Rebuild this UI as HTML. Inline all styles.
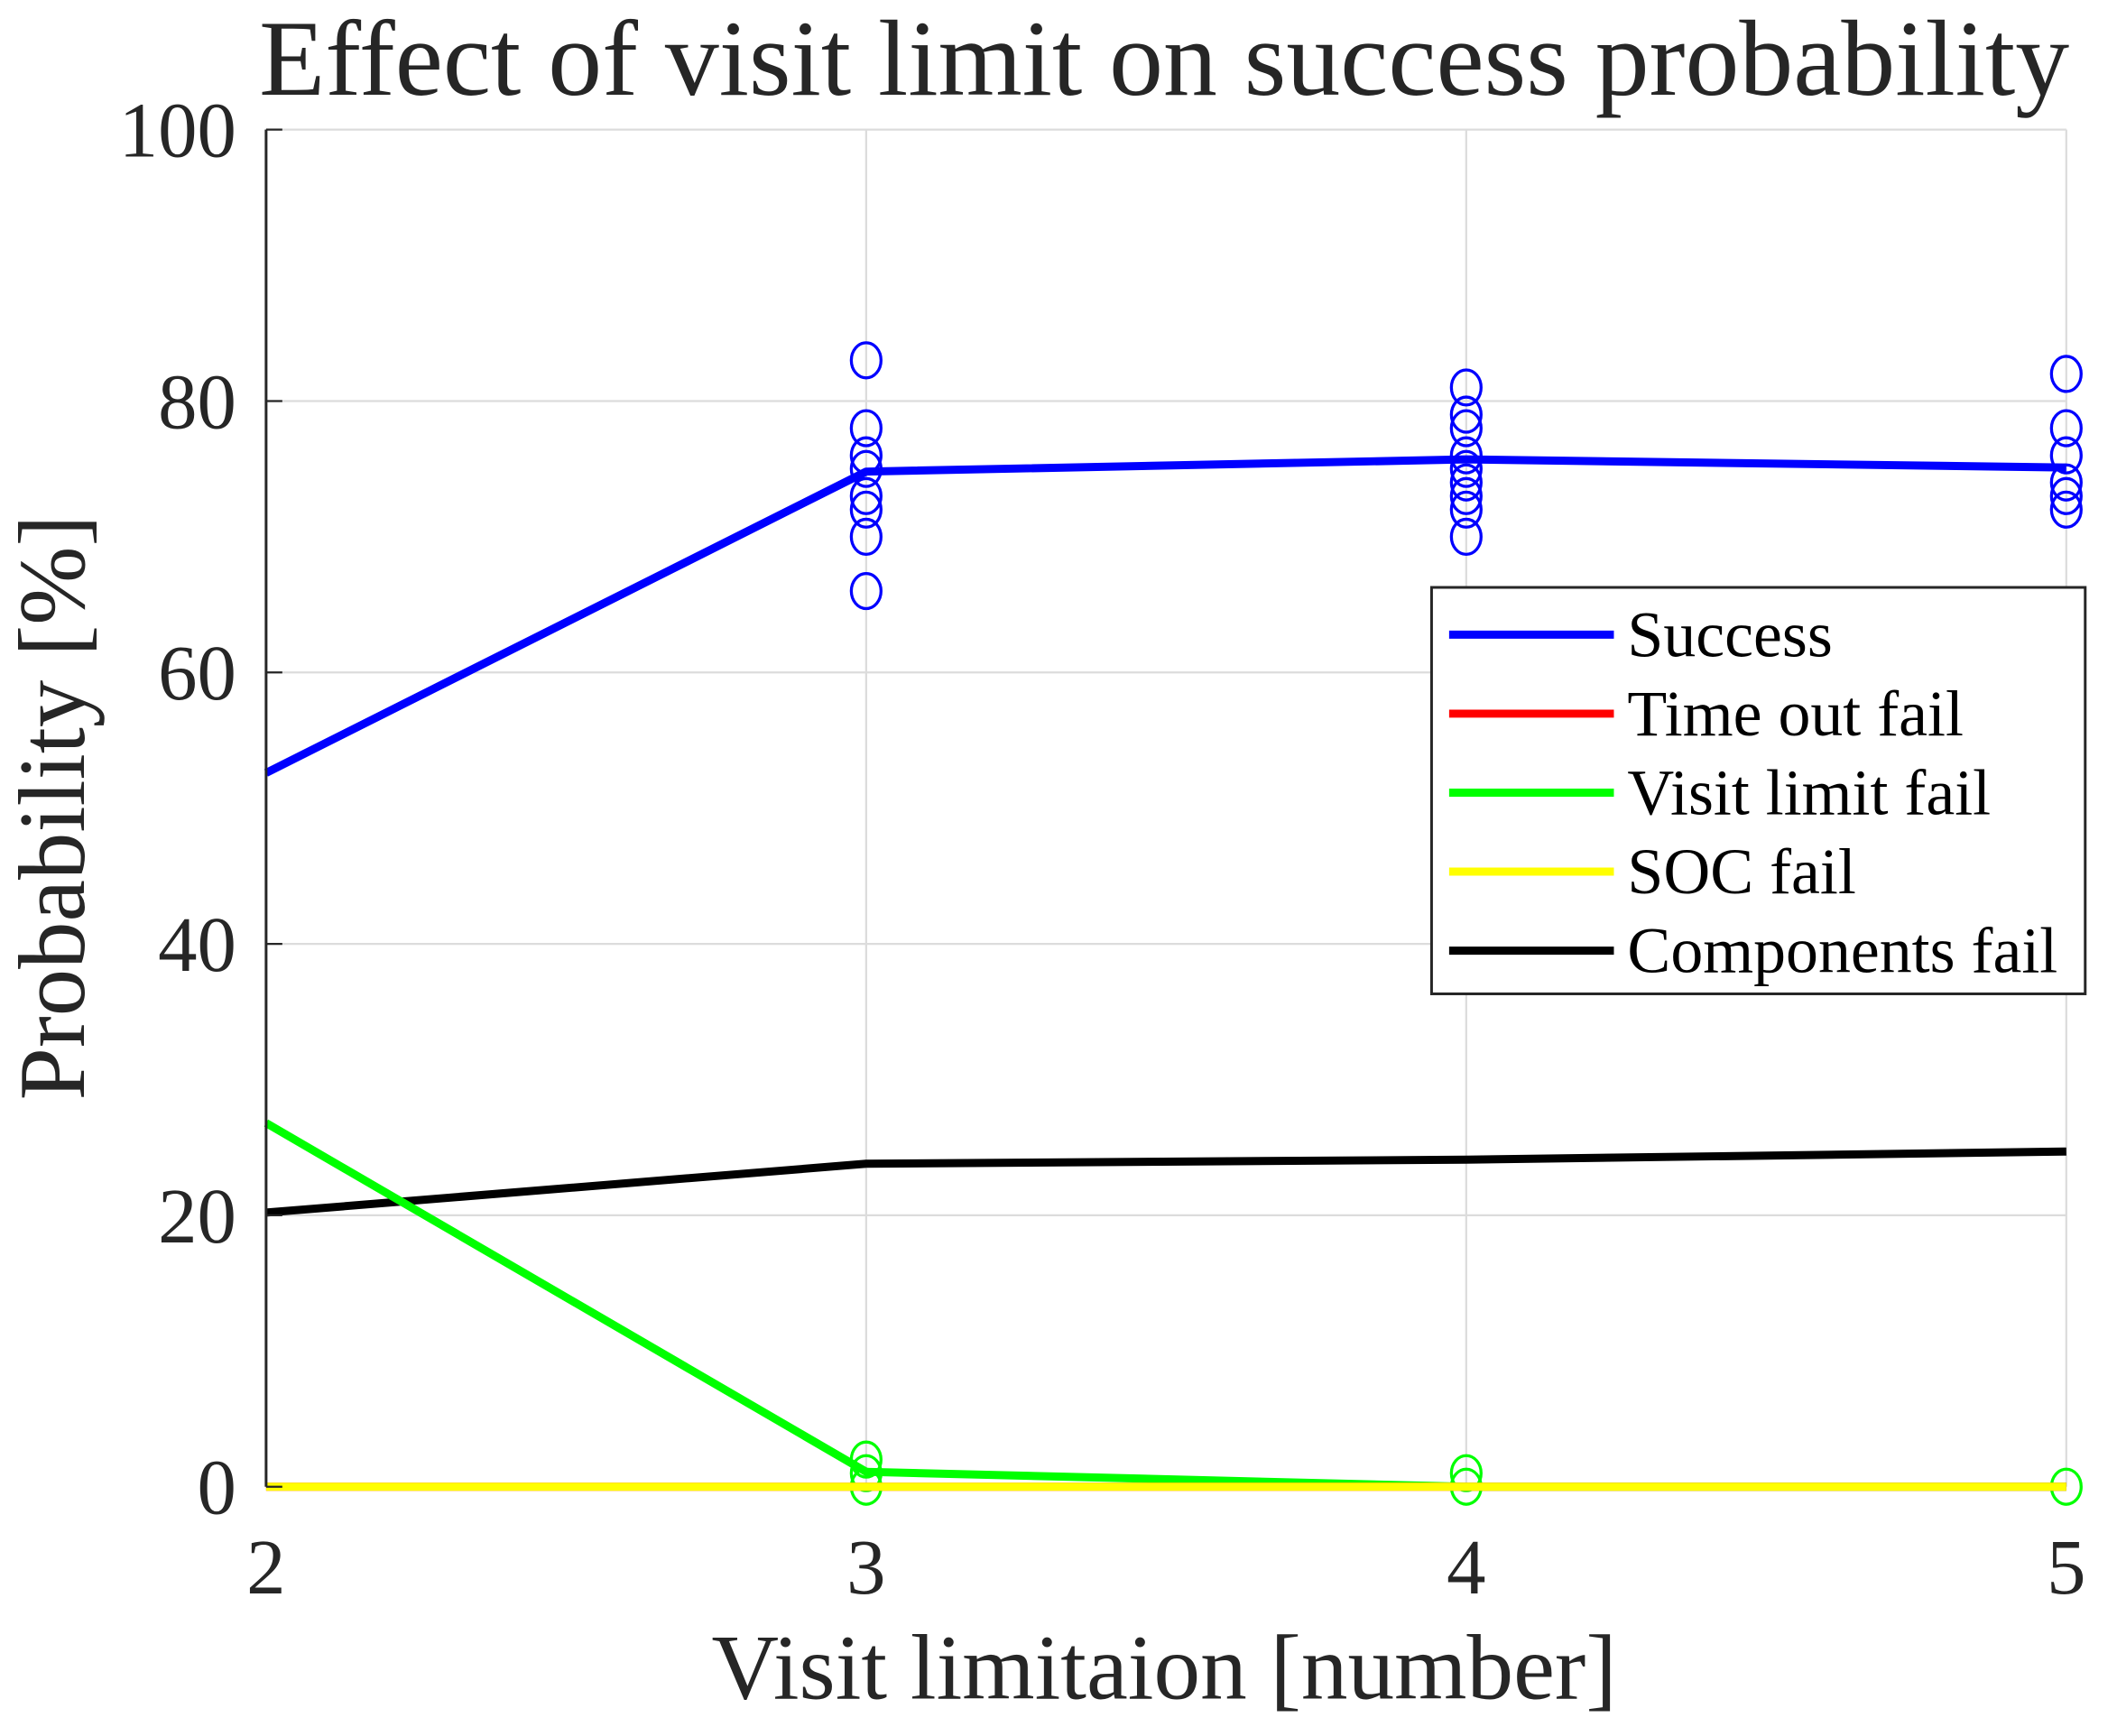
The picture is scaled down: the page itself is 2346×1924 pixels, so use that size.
<!DOCTYPE html>
<html><head><meta charset="utf-8"><style>
html,body{margin:0;padding:0;background:#fff}
svg{display:block}
text{font-family:"Liberation Serif",serif;fill:#262626}
</style></head><body>
<svg id="chart" width="2346" height="1924" viewBox="0 0 1567.5 1285.6" xmlns="http://www.w3.org/2000/svg">
<rect width="1568" height="1286" fill="#fff"/>
<g id="grid"></g>
<g id="series"></g>
<g id="axes"></g>
<text x="862" y="70" font-size="80" text-anchor="middle">Effect of visit limit on success probability</text>
<text x="862" y="1258" font-size="69" text-anchor="middle">Visit limitaion [number]</text>
<text transform="translate(62,598) rotate(-90)" font-size="70" text-anchor="middle">Probability [%]</text>
<g id="legend"></g>
</svg>
<script>
const xCats=[2,3,4,5];
const successVals=[52.6,74.8,75.7,75.1];
const timeoutVals=[0,0,0,0];
const visitVals=[26.8,1.1,0,0];
const socVals=[0,0,0,0];
const compVals=[20.2,23.8,24.1,24.7];
const successPtsX=[3,3,3,3,3,3,3,3,4,4,4,4,4,4,4,4,4,5,5,5,5,5,5];
const successPtsY=[83,78,76,75,73,72,70,66,81,79,78,76,75,74,73,72,70,82,78,76,74,73,72];
const visitPtsX=[3,3,3,4,4,5];
const visitPtsY=[2,1,0,1,0,0];
const xTicks=[2,3,4,5];
const yTicks=[0,20,40,60,80,100];
const NS="http://www.w3.org/2000/svg";
const L=197,R=1530,T=96,B=1101;
const xs=v=>L+(v-2)/(5-2)*(R-L);
const ys=v=>B-v/100*(B-T);
function mk(tag,attrs,parent){const e=document.createElementNS(NS,tag);for(const k in attrs)e.setAttribute(k,attrs[k]);parent.appendChild(e);return e;}
const grid=document.getElementById('grid'),axes=document.getElementById('axes'),ser=document.getElementById('series'),leg=document.getElementById('legend');
xTicks.forEach(t=>{const g=mk('line',{x1:xs(t),x2:xs(t),y1:T,y2:B,stroke:'#dcdcdc','stroke-width':1.5},grid);


const tx=mk('text',{x:xs(t),y:B+79,'font-size':58,'text-anchor':'middle'},axes);tx.textContent=t;

});
yTicks.forEach(t=>{const g=mk('line',{x1:L,x2:R,y1:ys(t),y2:ys(t),stroke:'#dcdcdc','stroke-width':1.5},grid);


mk('line',{x1:L,x2:L+12,y1:ys(t),y2:ys(t),stroke:'#262626','stroke-width':1.5},axes);
const tx=mk('text',{x:L-22,y:ys(t)+20,'font-size':58,'text-anchor':'end'},axes);tx.textContent=t;

});
const ax=mk('line',{x1:L,x2:L,y1:T,y2:B,stroke:'#262626','stroke-width':2},axes);


function line(vals,color,name){const p=mk('polyline',{points:vals.map((v,i)=>xs(xCats[i])+','+ys(v)).join(' '),fill:'none',stroke:color,'stroke-width':6,'stroke-linejoin':'round'},ser);

}
function pts(X,Y,color,name){X.forEach((x,i)=>{const c=mk('ellipse',{cx:xs(x),cy:ys(Y[i]),rx:11,ry:13,fill:'none',stroke:color,'stroke-width':2.2},ser);

});}
line(compVals,'#000','components-fail-line');
line(successVals,'#0000ff','success-line');
pts(successPtsX,successPtsY,'#0000ff','success-marker');
line(visitVals,'#00ff00','visit-limit-fail-line');
pts(visitPtsX,visitPtsY,'#00ff00','visit-limit-marker');
line(timeoutVals,'#ff0000','time-out-fail-line');
line(socVals,'#ffff00','soc-fail-line');
const lb=mk('rect',{x:1060,y:435,width:484,height:301,fill:'#fff',stroke:'#262626','stroke-width':2},leg);


const legNames=['Success','Time out fail','Visit limit fail','SOC fail','Components fail'];
const legColors=['#0000ff','#ff0000','#00ff00','#ffff00','#000'];
legNames.forEach((n,i)=>{const y=470+i*58.5;
const l=mk('line',{x1:1073,x2:1195,y1:y,y2:y,stroke:legColors[i],'stroke-width':6},leg);


const t=mk('text',{x:1205,y:y+16,'font-size':48},leg);t.textContent=n;t.style.fill='#000';

});
</script>
</body></html>
